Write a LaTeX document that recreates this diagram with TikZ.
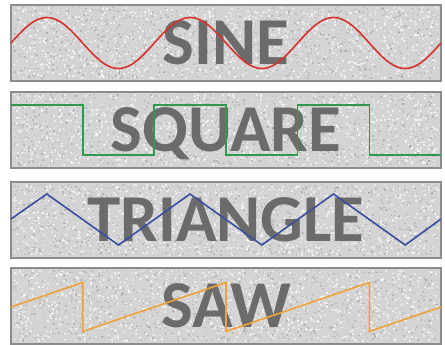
\documentclass[tikz,border=0pt]{standalone}
\usepackage{fontspec}
\setmainfont{Carlito}
\usepackage{tikz}
\usetikzlibrary{positioning, calc}

\definecolor{bggrey}{HTML}{D4D4D4}
\definecolor{frame}{HTML}{8C8C8C}
\definecolor{inkgrey}{HTML}{6B6B6B}
\definecolor{sinered}{HTML}{D8322E}
\definecolor{sqgreen}{HTML}{2E9A4C}
\definecolor{triblue}{HTML}{3B4EA0}
\definecolor{sawor}{HTML}{F0A23A}

\begin{document}
\begin{tikzpicture}[
    x=1pt, y=-1pt,
    panel/.style={draw=frame, line width=1.2pt, fill=bggrey, minimum width=430, minimum height=76, inner sep=0pt, outer sep=0pt},
    word/.style={font=\bfseries\fontsize{67}{67}\selectfont, text=inkgrey, text height=43pt, text depth=0pt, inner sep=0pt},
    wave/.style={line width=1.6pt, line join=miter}
]
\pgfmathsetseed{42}
\useasboundingbox (0,0) rectangle (445,345);

% Panels
\node[panel] (p1) at (226,43) {};
\node[panel] (p2) at (226,130) {};
\node[panel] (p3) at (226,220) {};
\node[panel] (p4) at (226,306) {};

% Noise
\foreach \c in {43,130,220,306} {
  \foreach \k in {1,...,1000} {
    \fill[white, opacity=0.6] (12.5+rnd*425, \c-36.5+rnd*71) rectangle ++(1.8,1.8);
    \fill[black!50, opacity=0.3] (12.5+rnd*425, \c-36.5+rnd*71) rectangle ++(1.5,1.5);
  }
}

% Labels
\node[word] (sine) at (p1) {SINE};
\node[word] (square) at (p2) {SQUARE};
\node[word] (triangle) at (p3) {TRIANGLE};
\node[word] (saw) at (p4) {SAW};

% Sine
\draw[wave, sinered] plot[domain=11:441, samples=160, smooth] (\x, {43 - 25.5*sin((\x-11)*2.5117)});

% Square
\draw[wave, sqgreen] (11,105) -- (82.7,105) -- (82.7,155) -- (154,155) -- (154,105) -- (226,105) -- (226,155)
  -- (297.3,155) -- (297.3,105) -- (369.3,105) -- (369.3,155) -- (441,155);

% Triangle
\draw[wave, triblue] (11,219) -- (46.8,194) -- (118.5,245) -- (190,194) -- (261.8,245) -- (333.5,194) -- (405.2,245) -- (441,219);

% Saw
\draw[wave, sawor] (11,307) -- (82.7,282.5) -- (82.7,331.5) -- (226,282.5) -- (226,331.5) -- (369.3,282.5) -- (369.3,331.5) -- (441,307);

\end{tikzpicture}
\end{document}
